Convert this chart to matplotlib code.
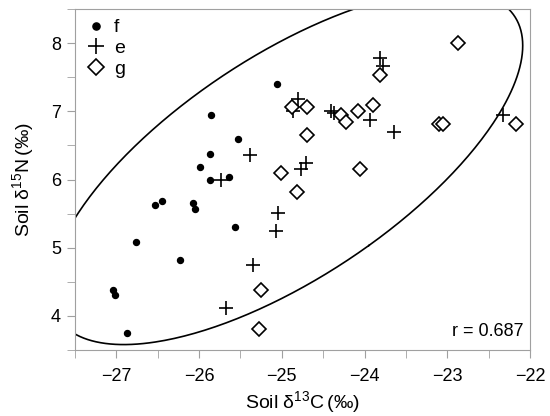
import numpy as np
import matplotlib
matplotlib.use("Agg")
import matplotlib.pyplot as plt
from matplotlib.ticker import MultipleLocator

plt.rcParams['font.family'] = ['Liberation Sans', 'DejaVu Sans']
plt.rcParams['mathtext.fontset'] = 'custom'
plt.rcParams['mathtext.rm'] = 'Liberation Sans'

# group f (filled dots)
f_x = [-25.06, -25.86, -25.53, -25.87, -25.99, -25.87, -25.64, -26.53, -26.45,
       -26.07, -26.05, -25.57, -26.76, -26.23, -27.04, -27.01, -26.87]
f_y = [7.40, 6.94, 6.60, 6.37, 6.18, 5.99, 6.03, 5.62, 5.69,
       5.66, 5.56, 5.31, 5.09, 4.82, 4.38, 4.31, 3.75]
# group e (plus)
e_x = [-25.73, -25.39, -24.81, -24.87, -24.71, -24.77, -25.04, -25.07, -25.35,
       -25.67, -24.41, -24.37, -23.93, -23.64, -23.82, -23.78, -22.33]
e_y = [6.00, 6.36, 7.18, 7.01, 6.24, 6.16, 5.51, 5.25, 4.75,
       4.12, 7.01, 6.97, 6.88, 6.69, 7.79, 7.67, 6.94]
# group g (open diamonds)
g_x = [-24.88, -24.69, -24.70, -25.01, -24.82, -25.25, -25.28, -24.29, -24.23,
       -24.08, -23.90, -24.05, -23.10, -23.05, -22.17, -23.82, -22.87]
g_y = [7.06, 7.06, 6.66, 6.09, 5.81, 4.38, 3.81, 6.94, 6.85,
       7.01, 7.10, 6.15, 6.81, 6.81, 6.82, 7.53, 8.00]

r_label = "r = 0.687"
x_ticks = [-27, -26, -25, -24, -23, -22]
y_ticks = [4, 5, 6, 7, 8]

fig = plt.figure(figsize=(5.5, 4.16), dpi=100)
ax = fig.add_axes([0.136, 0.159, 0.828, 0.819])

ax.plot(f_x, f_y, 'o', color='black', markersize=4.3, linestyle='none', label='f')
ax.plot(e_x, e_y, '+', color='black', markersize=10, markeredgewidth=1.2, linestyle='none', label='e')
ax.plot(g_x, g_y, 'D', markerfacecolor='white', markeredgecolor='black', markersize=7,
        markeredgewidth=1.2, linestyle='none', label='g')

# 95% density ellipse from all points
X = np.array(f_x + e_x + g_x)
Y = np.array(f_y + e_y + g_y)
cov = np.cov(X, Y)
mx, my = X.mean(), Y.mean()
vals, vecs = np.linalg.eigh(cov)
k = np.sqrt(5.991)
t = np.linspace(0, 2 * np.pi, 400)
circ = np.vstack([np.cos(t), np.sin(t)]) * np.sqrt(vals)[:, None] * k
pts = vecs @ circ
ax.plot(mx + pts[0], my + pts[1], color='black', lw=1.2)

ax.set_xlim(-27.5, -22)
ax.set_ylim(3.5, 8.5)
ax.set_xticks(x_ticks)
ax.set_yticks(y_ticks)
ax.xaxis.set_minor_locator(MultipleLocator(0.5))
ax.yaxis.set_minor_locator(MultipleLocator(0.5))
for s in ax.spines.values():
    s.set_color('#a0a0a0')
ax.tick_params(which='both', direction='out', length=6, color='#a0a0a0', labelsize=13)
ax.tick_params(axis='x', which='major', pad=7)
ax.tick_params(axis='y', which='major', pad=4)

ax.set_xlabel('Soil δ$^{13}$C$\\,$(‰)', fontsize=14, labelpad=3)
ax.set_ylabel('Soil δ$^{15}$N$\\,$(‰)', fontsize=14, labelpad=10)

ax.text(0.985, 0.03, r_label, transform=ax.transAxes, ha='right', va='bottom', fontsize=13)

leg = ax.legend(loc='upper left', frameon=False, fontsize=14, handletextpad=0.3,
                borderaxespad=0.1, labelspacing=0.15, handlelength=1.2, markerscale=1.2)

fig.savefig('out.png', dpi=100)
